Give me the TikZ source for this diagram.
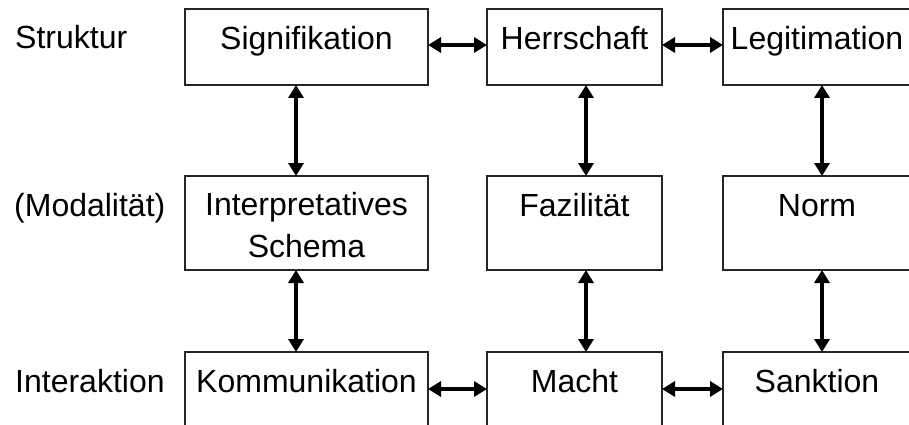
\documentclass[tikz,border=0pt]{standalone}
\usepackage{fontspec}
\setmainfont{Liberation Sans}
\usetikzlibrary{arrows.meta}
\begin{document}
\begin{tikzpicture}[x=1pt,y=-1pt,
  box/.style={draw=black!85, line width=1.2pt, anchor=north west, inner sep=0pt, outer sep=0pt},
  txt/.style={anchor=base, inner sep=0pt, font=\fontsize{32}{42}\selectfont, align=center},
  side/.style={anchor=base west, inner sep=0pt, font=\fontsize{32}{42}\selectfont},
  link/.style={line width=3.2pt, {Triangle[length=13pt,width=15pt]}-{Triangle[length=13pt,width=15pt]}}]
\useasboundingbox (0,0) rectangle (909,425);
\clip (0,0) rectangle (909,425);

% row labels
\node[side] (lstruk) at (15,49) {Struktur};
\node[side] (lmod) at (14,216) {(Modalität)};
\node[side] (linter) at (15,392) {Interaktion};

% boxes: structure row
\node[box, minimum width=243pt, minimum height=76pt] (sig) at (185,9) {};
\node[box, minimum width=175pt, minimum height=76pt] (her) at (487,9) {};
\node[box, minimum width=188pt, minimum height=76pt] (leg) at (723,9) {};
% modality row
\node[box, minimum width=243pt, minimum height=94pt] (isch) at (185,176) {};
\node[box, minimum width=175pt, minimum height=94pt] (faz) at (487,176) {};
\node[box, minimum width=188pt, minimum height=94pt] (nor) at (723,176) {};
% interaction row
\node[box, minimum width=243pt, minimum height=94pt] (kom) at (185,352) {};
\node[box, minimum width=175pt, minimum height=94pt] (mac) at (487,352) {};
\node[box, minimum width=188pt, minimum height=94pt] (san) at (723,352) {};

% box texts (a two-line node sits on the baseline of its last line)
\node[txt] (tsig) at ([yshift=-41pt]sig.north) {Signifikation};
\node[txt] (ther) at ([yshift=-41pt]her.north) {Herrschaft};
\node[txt] (tleg) at ([yshift=-41pt]leg.north) {Legitimation};
\node[txt] (tisch) at ([yshift=-81pt]isch.north) {Interpretatives\\Schema};
\node[txt] (tfaz) at ([yshift=-40pt]faz.north) {Fazilität};
\node[txt] (tnor) at ([yshift=-40pt]nor.north) {Norm};
\node[txt] (tkom) at ([yshift=-40pt]kom.north) {Kommunikation};
\node[txt] (tmac) at ([yshift=-40pt]mac.north) {Macht};
\node[txt] (tsan) at ([yshift=-40pt]san.north) {Sanktion};

% horizontal links
\draw[link] (sig.east |- 0,45) -- (her.west |- 0,45);
\draw[link] (her.east |- 0,45) -- (leg.west |- 0,45);
\draw[link] (kom.east |- 0,389) -- (mac.west |- 0,389);
\draw[link] (mac.east |- 0,389) -- (san.west |- 0,389);

% vertical links
\draw[link] (sig.south -| 296,0) -- (isch.north -| 296,0);
\draw[link] (isch.south -| 296,0) -- (kom.north -| 296,0);
\draw[link] (her.south -| 586,0) -- (faz.north -| 586,0);
\draw[link] (faz.south -| 586,0) -- (mac.north -| 586,0);
\draw[link] (leg.south -| 822,0) -- (nor.north -| 822,0);
\draw[link] (nor.south -| 822,0) -- (san.north -| 822,0);
\end{tikzpicture}
\end{document}
